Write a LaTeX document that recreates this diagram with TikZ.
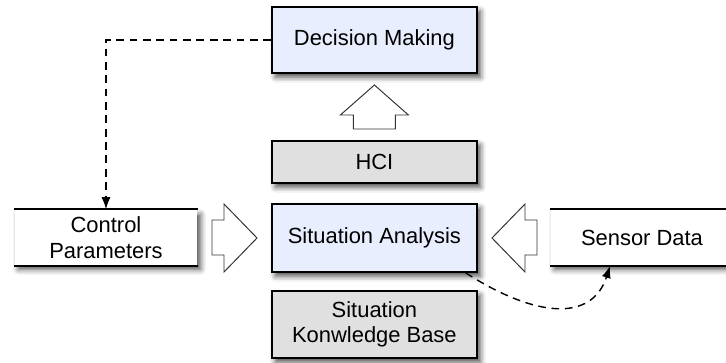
\documentclass[tikz,border=0pt]{standalone}
\usepackage{fontspec}
\setsansfont{Liberation Sans}
\tikzset{every picture/.style={/utils/exec={\sffamily}}}
\usetikzlibrary{calc}
\usetikzlibrary{positioning}
\usetikzlibrary{arrows.meta,shadows.blur}
\definecolor{paleblue}{RGB}{232,238,253}
\definecolor{palegray}{RGB}{224,224,224}
\tikzset{
  block/.style={draw, line width=1.3pt, align=center, minimum width=5.125cm,
    font=\fontsize{15.6pt}{18pt}\selectfont,
    blur shadow={shadow xshift=2.5pt, shadow yshift=-3pt, shadow blur radius=4pt, shadow opacity=70}},
  store/.style={block, draw=none, fill=white, minimum width=4.55cm, minimum height=1.375cm},
  bigarrow/.style={draw=black!80, line width=0.7pt, fill=white, line join=miter},
  flow/.style={line width=1pt, dash pattern=on 5.5pt off 4pt, -{Latex[length=8.5pt,width=6.5pt]}},
}
\begin{document}
\begin{tikzpicture}
  \useasboundingbox (0,0) rectangle (18.15,9.05);

  \node [block, fill=paleblue, minimum height=1.65cm] (dm) at (9.36,8.05) {Decision Making};
  \node [block, fill=palegray, minimum height=1.05cm] (hci) at (9.36,5.0) {HCI};
  \node [block, fill=paleblue, minimum height=1.7cm] (sa) at (9.36,3.1) {Situation Analysis};
  \node [block, fill=palegray, minimum height=1.675cm] (kb) at (9.36,0.9375) {Situation\\Konwledge Base};

  \node [store] (cp) at (2.65,3.11) {Control\\Parameters};
  \node [store] (sd) at (16.05,3.11) {Sensor Data};
  \draw [line width=1.3pt] (cp.north west) -- (cp.north east) (cp.south west) -- (cp.south east);
  \draw [line width=1.3pt] (sd.north west) -- (sd.north east) (sd.south west) -- (sd.south east);

  % hollow arrows
  \draw [bigarrow] (8.835,5.825) -- (8.835,6.175) -- (8.51,6.175) -- (9.36,6.925)
    -- (10.21,6.175) -- (9.885,6.175) -- (9.885,5.825) -- cycle;
  \draw [bigarrow] (5.3,3.55) -- (5.6,3.55) -- (5.6,3.95) -- (6.425,3.1)
    -- (5.6,2.25) -- (5.6,2.675) -- (5.3,2.675) -- cycle;
  \draw [bigarrow] (13.425,3.55) -- (13.125,3.55) -- (13.125,3.95) -- (12.3,3.1)
    -- (13.125,2.25) -- (13.125,2.675) -- (13.425,2.675) -- cycle;

  \draw [flow] (dm.west) -| (cp.north);
  \draw [flow] ($(sa.south east)+(-0.3,0)$) .. controls (13.4,1.1) and (14.8,1.0) .. ($(sd.south)+(-0.8,0)$);

\end{tikzpicture}
\end{document}
